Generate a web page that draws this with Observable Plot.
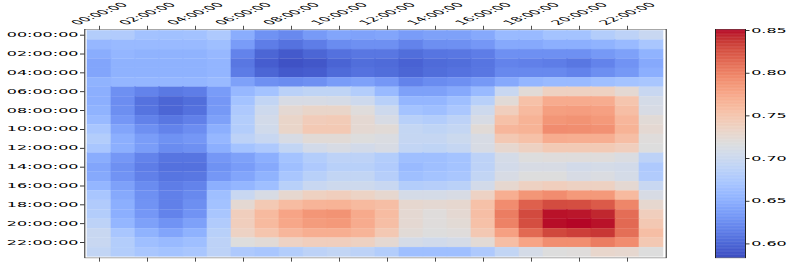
<!DOCTYPE html>
<html><head><meta charset="utf-8">
<script src="https://cdn.jsdelivr.net/npm/d3@7"></script>
<script src="https://cdn.jsdelivr.net/npm/@observablehq/plot@0.6"></script>
<style>html,body{margin:0;padding:0;background:#fff;}#chart{width:793px;height:262px;overflow:hidden;}</style>
</head><body><div id="chart"></div>
<script>
const hours = ["00:00:00","01:00:00","02:00:00","03:00:00","04:00:00","05:00:00","06:00:00","07:00:00",
  "08:00:00","09:00:00","10:00:00","11:00:00","12:00:00","13:00:00","14:00:00","15:00:00",
  "16:00:00","17:00:00","18:00:00","19:00:00","20:00:00","21:00:00","22:00:00","23:00:00"];
const tickHours = ["00:00:00","02:00:00","04:00:00","06:00:00","08:00:00","10:00:00",
  "12:00:00","14:00:00","16:00:00","18:00:00","20:00:00","22:00:00"];
const colorbarTicks = [0.60, 0.65, 0.70, 0.75, 0.80, 0.85];
const colorDomain = [0.5836, 0.8512];

// rows = y hour, columns = x hour
const values = [
  [0.680,0.678,0.667,0.666,0.667,0.676, 0.648,0.628,0.622,0.634,0.642,0.640, 0.642,0.635,0.639,0.639,0.645,0.660, 0.660,0.668,0.668,0.680,0.688,0.697],
  [0.657,0.660,0.660,0.660,0.660,0.664, 0.635,0.614,0.607,0.614,0.624,0.627, 0.627,0.618,0.626,0.627,0.632,0.645, 0.645,0.650,0.650,0.653,0.660,0.672],
  [0.648,0.656,0.653,0.653,0.653,0.658, 0.618,0.599,0.592,0.599,0.606,0.610, 0.610,0.604,0.609,0.610,0.614,0.627, 0.627,0.627,0.627,0.633,0.639,0.653],
  [0.642,0.652,0.652,0.652,0.652,0.655, 0.610,0.594,0.587,0.590,0.598,0.604, 0.602,0.597,0.602,0.604,0.609,0.618, 0.616,0.614,0.610,0.618,0.629,0.645],
  [0.642,0.652,0.652,0.652,0.652,0.655, 0.613,0.599,0.592,0.594,0.602,0.607, 0.604,0.599,0.604,0.607,0.610,0.622, 0.622,0.622,0.618,0.626,0.633,0.650],
  [0.653,0.656,0.656,0.656,0.656,0.660, 0.639,0.627,0.624,0.627,0.635,0.639, 0.632,0.618,0.624,0.627,0.633,0.645, 0.656,0.660,0.660,0.664,0.668,0.672],
  [0.650,0.627,0.618,0.611,0.614,0.635, 0.658,0.668,0.686,0.690,0.690,0.680, 0.660,0.639,0.639,0.645,0.660,0.697, 0.722,0.737,0.737,0.737,0.725,0.697],
  [0.650,0.625,0.607,0.599,0.604,0.632, 0.668,0.692,0.711,0.711,0.709,0.702, 0.684,0.656,0.656,0.664,0.684,0.722, 0.754,0.772,0.772,0.771,0.750,0.708],
  [0.653,0.626,0.608,0.599,0.606,0.633, 0.676,0.702,0.725,0.731,0.731,0.719, 0.702,0.668,0.664,0.673,0.702,0.740, 0.760,0.781,0.782,0.780,0.756,0.711],
  [0.660,0.632,0.617,0.610,0.616,0.639, 0.680,0.706,0.731,0.742,0.744,0.725, 0.711,0.684,0.680,0.688,0.711,0.754, 0.766,0.787,0.789,0.785,0.763,0.722],
  [0.672,0.642,0.627,0.618,0.625,0.650, 0.680,0.704,0.731,0.746,0.746,0.725, 0.722,0.694,0.690,0.694,0.722,0.763, 0.766,0.793,0.792,0.790,0.766,0.725],
  [0.680,0.650,0.636,0.628,0.632,0.657, 0.688,0.697,0.711,0.722,0.722,0.717, 0.714,0.695,0.695,0.700,0.711,0.747, 0.754,0.771,0.770,0.770,0.756,0.719],
  [0.672,0.650,0.636,0.624,0.627,0.650, 0.668,0.676,0.692,0.706,0.711,0.706, 0.711,0.692,0.690,0.695,0.711,0.727, 0.736,0.745,0.745,0.745,0.740,0.717],
  [0.648,0.632,0.618,0.609,0.609,0.632, 0.639,0.650,0.668,0.680,0.688,0.688, 0.680,0.664,0.664,0.668,0.688,0.708, 0.717,0.719,0.719,0.719,0.714,0.688],
  [0.642,0.627,0.614,0.606,0.606,0.628, 0.635,0.645,0.664,0.676,0.684,0.684, 0.678,0.660,0.664,0.668,0.688,0.706, 0.711,0.711,0.706,0.708,0.706,0.676],
  [0.645,0.629,0.616,0.609,0.610,0.632, 0.642,0.653,0.672,0.684,0.692,0.692, 0.682,0.664,0.668,0.672,0.692,0.711, 0.717,0.717,0.711,0.714,0.708,0.678],
  [0.656,0.639,0.624,0.614,0.618,0.650, 0.656,0.664,0.684,0.697,0.702,0.702, 0.697,0.680,0.682,0.686,0.706,0.727, 0.736,0.740,0.736,0.736,0.725,0.697],
  [0.672,0.645,0.627,0.616,0.622,0.664, 0.697,0.711,0.727,0.737,0.740,0.734, 0.727,0.708,0.708,0.711,0.735,0.770, 0.787,0.793,0.785,0.785,0.760,0.711],
  [0.678,0.650,0.629,0.616,0.626,0.667, 0.725,0.746,0.758,0.765,0.766,0.760, 0.756,0.727,0.725,0.727,0.754,0.793, 0.818,0.828,0.827,0.821,0.797,0.727],
  [0.680,0.650,0.632,0.618,0.629,0.672, 0.740,0.760,0.777,0.787,0.789,0.773, 0.758,0.725,0.719,0.725,0.756,0.802, 0.829,0.848,0.847,0.843,0.811,0.740],
  [0.688,0.656,0.639,0.629,0.639,0.678, 0.740,0.760,0.775,0.783,0.785,0.772, 0.756,0.725,0.719,0.723,0.754,0.799, 0.827,0.849,0.851,0.848,0.813,0.747],
  [0.697,0.672,0.653,0.642,0.652,0.684, 0.735,0.750,0.763,0.770,0.770,0.765, 0.747,0.722,0.717,0.719,0.747,0.780, 0.813,0.830,0.834,0.837,0.810,0.756],
  [0.697,0.680,0.664,0.660,0.664,0.688, 0.717,0.722,0.735,0.740,0.740,0.736, 0.725,0.708,0.704,0.708,0.723,0.756, 0.777,0.792,0.792,0.802,0.793,0.747],
  [0.692,0.680,0.672,0.668,0.672,0.688, 0.676,0.672,0.680,0.688,0.692,0.688, 0.680,0.664,0.664,0.664,0.676,0.692, 0.708,0.717,0.719,0.729,0.727,0.717]
];

// matplotlib "coolwarm" control colours
const coolwarmStops = ["#3b4cc0","#445acc","#4d68d7","#5775e1","#6282ea","#6c8ef1","#779af7","#82a5fb",
  "#8db0fe","#98b9ff","#a3c2ff","#aec9fd","#b8d0f9","#c2d5f4","#ccd9ee","#d5dbe6","#dddddd",
  "#e5d8d1","#ecd3c5","#f1ccb9","#f5c4ad","#f7bba0","#f7b194","#f7a688","#f49a7b","#f18d6f",
  "#ec7f63","#e57058","#de604d","#d55042","#cb3e38","#c0282f","#b40426"];
const coolwarm = d3.piecewise(d3.interpolateRgb, coolwarmStops);

const W = 793, H = 667, OUT_H = 262;
const cells = values.flatMap((row, i) => row.map((v, j) => ({row: hours[i], col: hours[j], v})));
const colorOpts = {type: "linear", domain: colorDomain, interpolate: coolwarm, clamp: true};
const font = {fontFamily: "DejaVu Sans", fontSize: "16px", background: "white", color: "black"};

const main = Plot.plot({
  width: W, height: H,
  marginLeft: 84.3, marginRight: 127.3, marginTop: 74.6, marginBottom: 10.9,
  style: font,
  x: {type: "band", domain: hours, padding: 0},
  y: {type: "band", domain: hours, padding: 0},
  color: colorOpts,
  marks: [
    Plot.cell(cells, {x: "col", y: "row", fill: "v", stroke: "v", strokeWidth: 0.6}),
    Plot.frame({stroke: "#222", strokeWidth: 1}),
    Plot.axisX(tickHours, {anchor: "top", tickSize: 10, tickFormat: () => "", label: null}),
    Plot.axisX(tickHours, {anchor: "bottom", tickSize: 10, tickFormat: () => "", label: null}),
    Plot.axisY(tickHours, {anchor: "left", tickSize: 4.3, tickPadding: 2, strokeWidth: 2, label: null}),
    Plot.text(tickHours, {x: d => d, frameAnchor: "top", dy: -40, rotate: -45,
      textAnchor: "middle", lineAnchor: "middle", fill: "black"})
  ]
});

const step = (colorDomain[1] - colorDomain[0]) / 300;
const ramp = d3.range(300).map(i => colorDomain[0] + i * step);
const bar = Plot.plot({
  width: 93, height: H,
  marginLeft: 15, marginRight: 48, marginTop: 74.6, marginBottom: 10.9,
  style: font,
  x: {domain: [0, 1], axis: null},
  y: {domain: colorDomain},
  color: colorOpts,
  marks: [
    Plot.rect(ramp, {x1: 0, x2: 1, y1: d => d, y2: d => Math.min(d + step * 1.6, colorDomain[1]), fill: d => d}),
    Plot.frame({stroke: "#222", strokeWidth: 1}),
    Plot.axisY(colorbarTicks, {anchor: "right", tickSize: 3.5, tickPadding: 2.2, strokeWidth: 2,
      tickFormat: d3.format(".2f"), label: null})
  ]
});

const g = document.createElementNS("http://www.w3.org/2000/svg", "g");
g.setAttribute("transform", "translate(700,0)");
for (const child of Array.from(bar.childNodes)) {
  if (child.tagName && child.tagName.toLowerCase() === "style") continue;
  g.appendChild(child);
}
main.appendChild(g);

main.setAttribute("viewBox", `0 0 ${W} ${H}`);
main.setAttribute("preserveAspectRatio", "none");
main.setAttribute("width", W);
main.setAttribute("height", OUT_H);
main.style.width = W + "px";
main.style.height = OUT_H + "px";
main.style.maxWidth = "none";
document.getElementById("chart").appendChild(main);
</script>
</body></html>
